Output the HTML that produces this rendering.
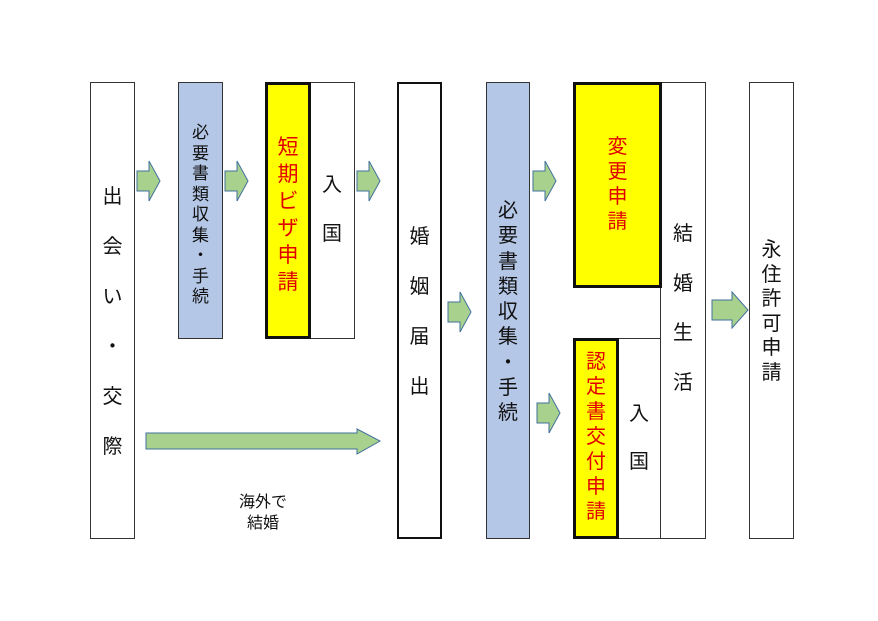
<!DOCTYPE html>
<html><head><meta charset="utf-8"><style>
body{margin:0;width:878px;height:621px;background:#fff;position:relative;overflow:hidden;font-family:"Liberation Sans","Noto Sans CJK JP",sans-serif}
.b{position:absolute;box-sizing:border-box;border:1px solid #333;background:#fff}
.t{position:absolute;box-sizing:border-box;border:3px solid #111}
.c{position:absolute;display:flex;flex-direction:column;align-items:center;color:#111}
.c span{display:block;text-align:center}
.r{color:#e00000}
</style></head><body>
<div class="b" style="left:90px;top:82px;width:45px;height:457px"></div>
<div class="b" style="left:178px;top:82px;width:45px;height:257px;background:#b4c7e7"></div>
<div class="b" style="left:309px;top:82px;width:46px;height:257px"></div>
<div class="t" style="left:265px;top:82px;width:46px;height:257px;background:#ffff00"></div>
<div class="t" style="left:397px;top:82px;width:45px;height:457px;border-width:2.5px"></div>
<div class="b" style="left:486px;top:82px;width:44px;height:457px;background:#b4c7e7"></div>
<div class="b" style="left:660px;top:82px;width:46px;height:457px"></div>
<div class="b" style="left:617px;top:338px;width:44px;height:201px"></div>
<div class="t" style="left:573px;top:82px;width:89px;height:206px;background:#ffff00"></div>
<div class="t" style="left:573px;top:338px;width:46px;height:201px;background:#ffff00"></div>
<div class="b" style="left:749px;top:82px;width:45px;height:457px"></div>

<div class="c" style="left:90px;width:45px;top:172px;font-size:20px;line-height:50px"><span>出</span><span>会</span><span>い</span><span>・</span><span>交</span><span>際</span></div>
<div class="c" style="left:178px;width:45px;top:123px;font-size:17px;line-height:20.5px"><span>必</span><span>要</span><span>書</span><span>類</span><span>収</span><span>集</span><span>・</span><span>手</span><span>続</span></div>
<div class="c r" style="left:265px;width:46px;top:134px;font-size:21px;line-height:27px"><span>短</span><span>期</span><span>ビ</span><span>ザ</span><span>申</span><span>請</span></div>
<div class="c" style="left:309px;width:46px;top:161px;font-size:20px;line-height:49px"><span>入</span><span>国</span></div>
<div class="c" style="left:397px;width:45px;top:212px;font-size:20px;line-height:50px"><span>婚</span><span>姻</span><span>届</span><span>出</span></div>
<div class="c" style="left:486px;width:44px;top:199px;font-size:20px;line-height:25.3px"><span>必</span><span>要</span><span>書</span><span>類</span><span>収</span><span>集</span><span>・</span><span>手</span><span>続</span></div>
<div class="c r" style="left:573px;width:89px;top:135px;font-size:20px;line-height:25px"><span>変</span><span>更</span><span>申</span><span>請</span></div>
<div class="c" style="left:660px;width:46px;top:210px;font-size:20px;line-height:49.5px"><span>結</span><span>婚</span><span>生</span><span>活</span></div>
<div class="c r" style="left:573px;width:46px;top:350px;font-size:20px;line-height:25px"><span>認</span><span>定</span><span>書</span><span>交</span><span>付</span><span>申</span><span>請</span></div>
<div class="c" style="left:617px;width:44px;top:390px;font-size:20px;line-height:48px"><span>入</span><span>国</span></div>
<div class="c" style="left:749px;width:45px;top:238px;font-size:20px;line-height:24.5px"><span>永</span><span>住</span><span>許</span><span>可</span><span>申</span><span>請</span></div>
<div class="c" style="left:213px;width:100px;top:492px;font-size:16px;line-height:21px"><span>海外で</span><span>結婚</span></div>

<svg width="878" height="621" style="position:absolute;left:0;top:0" fill="#a9d18e" stroke="#41719c" stroke-width="1">
<g id="a"><polygon points="137,171 149,171 149,161 160,181 149,201 149,191 137,191"/></g>
<polygon points="225,171 237,171 237,161 248,181 237,201 237,191 225,191"/>
<polygon points="357,171 369,171 369,161 380,181 369,201 369,191 357,191"/>
<polygon points="448,302 460,302 460,292 471,312 460,332 460,322 448,322"/>
<polygon points="533,171 545,171 545,161 556,181 545,201 545,191 533,191"/>
<polygon points="537,403 549,403 549,393 560,413 549,433 549,423 537,423"/>
<polygon points="146,433 357,433 357,429 380,441 357,454 357,449 146,449"/>
<polygon points="712,300 732,300 732,292 748,310 732,328 732,320 712,320"/>
</svg>
</body></html>
